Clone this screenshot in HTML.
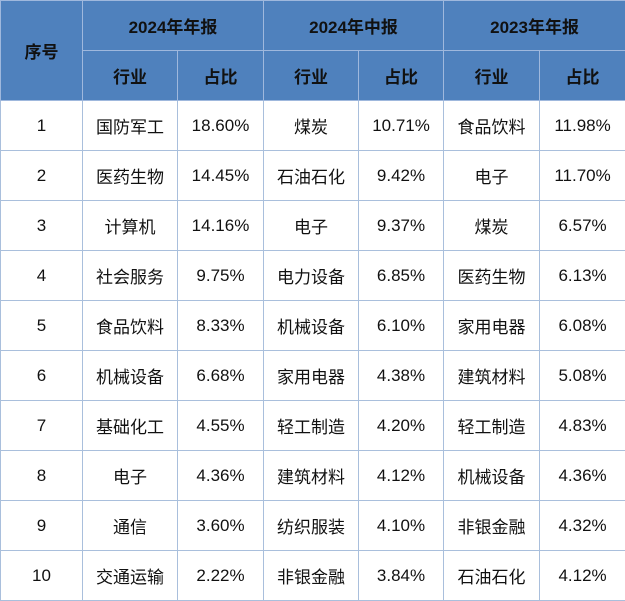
<!DOCTYPE html>
<html><head><meta charset="utf-8"><style>
body{margin:0;background:#fff;}
table{border-collapse:collapse;table-layout:fixed;width:625px;height:601px;font-family:"Liberation Sans","Noto Sans CJK SC",sans-serif;font-size:17px;color:#111;}
td,th{border:1px solid #a9bfdc;text-align:center;padding:0;height:49px;}
th{background:#4f81bd;color:#111;font-weight:bold;border-color:#9fb8dd;}
</style></head><body>
<table>
<colgroup><col style="width:82px"><col style="width:95px"><col style="width:86px"><col style="width:95px"><col style="width:85px"><col style="width:96px"><col style="width:86px"></colgroup>
<thead>
<tr><th rowspan="2">序号</th><th colspan="2">2024年年报</th><th colspan="2">2024年中报</th><th colspan="2">2023年年报</th></tr>
<tr><th>行业</th><th>占比</th><th>行业</th><th>占比</th><th>行业</th><th>占比</th></tr>
</thead>
<tbody id="tb"></tbody>
</table>
<script>
const ranks=[1,2,3,4,5,6,7,8,9,10];
const ind2024A=["国防军工","医药生物","计算机","社会服务","食品饮料","机械设备","基础化工","电子","通信","交通运输"];
const pct2024A=["18.60%","14.45%","14.16%","9.75%","8.33%","6.68%","4.55%","4.36%","3.60%","2.22%"];
const ind2024H=["煤炭","石油石化","电子","电力设备","机械设备","家用电器","轻工制造","建筑材料","纺织服装","非银金融"];
const pct2024H=["10.71%","9.42%","9.37%","6.85%","6.10%","4.38%","4.20%","4.12%","4.10%","3.84%"];
const ind2023A=["食品饮料","电子","煤炭","医药生物","家用电器","建筑材料","轻工制造","机械设备","非银金融","石油石化"];
const pct2023A=["11.98%","11.70%","6.57%","6.13%","6.08%","5.08%","4.83%","4.36%","4.32%","4.12%"];
const tb=document.getElementById('tb');
ranks.forEach((r,i)=>{
 const tr=document.createElement('tr');
 
 
 const vals=[r,ind2024A[i],pct2024A[i],ind2024H[i],pct2024H[i],ind2023A[i],pct2023A[i]];
 const names=['rank','industry-2024-annual','share-2024-annual','industry-2024-interim','share-2024-interim','industry-2023-annual','share-2023-annual'];
 vals.forEach((v,j)=>{
  const td=document.createElement('td');
  td.textContent=v;
  
  
  tr.appendChild(td);
 });
 tb.appendChild(tr);
});
</script>
</body></html>
